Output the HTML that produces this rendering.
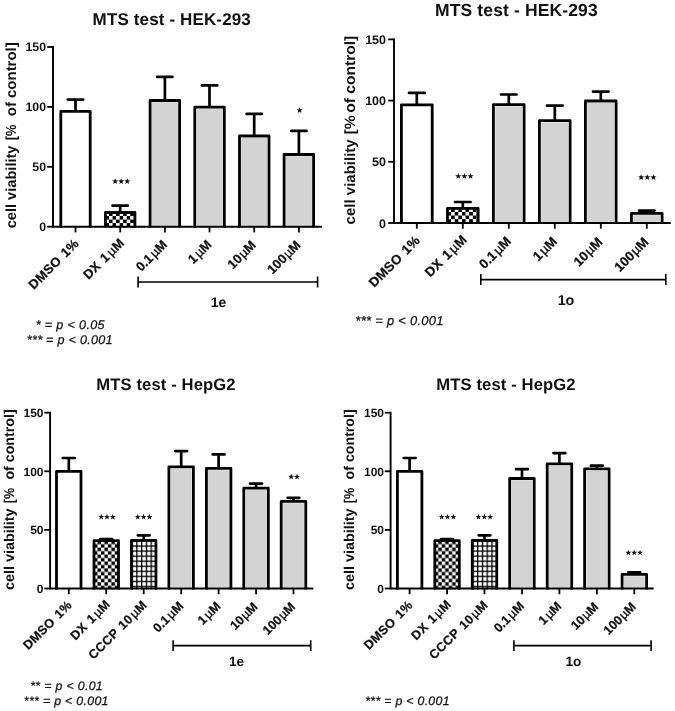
<!DOCTYPE html>
<html><head><meta charset="utf-8"><title>MTS test</title>
<style>
html,body{margin:0;padding:0;background:#fff;}
body{width:675px;height:711px;overflow:hidden;}
svg{display:block;will-change:transform;transform:translateZ(0);}
text{font-family:"Liberation Sans", sans-serif;fill:#111;text-rendering:geometricPrecision;}
</style></head><body>
<svg width="675" height="711" viewBox="0 0 675 711">
<defs>
<pattern id="chk0" width="7.092" height="7.092" patternUnits="userSpaceOnUse"><rect width="7.092" height="7.092" fill="#fff"/><rect x="3.546" y="0" width="3.546" height="3.546" fill="#000"/><rect x="0" y="3.546" width="3.546" height="3.546" fill="#000"/></pattern>
<pattern id="grid0" width="4.876" height="5.151" patternUnits="userSpaceOnUse"><rect width="4.876" height="5.151" fill="#fff"/><rect x="0" y="0" width="1.342" height="5.151" fill="#000"/><rect x="0" y="0" width="4.876" height="1.342" fill="#000"/></pattern>
<pattern id="chk1" width="7.246" height="7.246" patternUnits="userSpaceOnUse"><rect width="7.246" height="7.246" fill="#fff"/><rect x="3.623" y="0" width="3.623" height="3.623" fill="#000"/><rect x="0" y="3.623" width="3.623" height="3.623" fill="#000"/></pattern>
<pattern id="grid1" width="4.982" height="5.263" patternUnits="userSpaceOnUse"><rect width="4.982" height="5.263" fill="#fff"/><rect x="0" y="0" width="1.371" height="5.263" fill="#000"/><rect x="0" y="0" width="4.982" height="1.371" fill="#000"/></pattern>
<pattern id="chk2" width="6.938" height="6.938" patternUnits="userSpaceOnUse"><rect width="6.938" height="6.938" fill="#fff"/><rect x="3.469" y="0" width="3.469" height="3.469" fill="#000"/><rect x="0" y="3.469" width="3.469" height="3.469" fill="#000"/></pattern>
<pattern id="grid2" width="4.770" height="5.040" patternUnits="userSpaceOnUse"><rect width="4.770" height="5.040" fill="#fff"/><rect x="0" y="0" width="1.313" height="5.040" fill="#000"/><rect x="0" y="0" width="4.770" height="1.313" fill="#000"/></pattern>
<pattern id="chk3" width="6.938" height="6.938" patternUnits="userSpaceOnUse"><rect width="6.938" height="6.938" fill="#fff"/><rect x="3.469" y="0" width="3.469" height="3.469" fill="#000"/><rect x="0" y="3.469" width="3.469" height="3.469" fill="#000"/></pattern>
<pattern id="grid3" width="4.770" height="5.040" patternUnits="userSpaceOnUse"><rect width="4.770" height="5.040" fill="#fff"/><rect x="0" y="0" width="1.313" height="5.040" fill="#000"/><rect x="0" y="0" width="4.770" height="1.313" fill="#000"/></pattern>
</defs>
<rect width="675" height="711" fill="#fff"/>

<g id="chart1">
<text x="92.6" y="25.2" font-size="17.0" font-weight="bold" textLength="158.2" lengthAdjust="spacing">MTS test - HEK-293</text>
<text transform="translate(16.1,228.3) rotate(-90)" font-size="14.6" font-weight="bold" textLength="82.8" lengthAdjust="spacingAndGlyphs">cell viability</text>
<text transform="translate(16.1,140.2) rotate(-90)" font-size="14.6" font-weight="bold" textLength="15.7" lengthAdjust="spacingAndGlyphs">[%</text>
<text transform="translate(16.1,116.2) rotate(-90)" font-size="14.6" font-weight="bold" textLength="73.9" lengthAdjust="spacingAndGlyphs">of control]</text>
<path d="M75.5 111.4V99.6M67.8 99.6H83.2" stroke="#000" stroke-width="2.7" fill="none" stroke-linecap="round"/>
<path d="M60.8 227.6V111.4H90.2V227.6" fill="#fff" stroke="#000" stroke-width="2.8" stroke-linejoin="round"/>
<line x1="75.5" y1="226.7" x2="75.5" y2="232.4" stroke="#000" stroke-width="1.8"/>
<text transform="translate(79.6,244.3) rotate(-45)" text-anchor="end" font-size="13.0" font-weight="bold" word-spacing="1.2" letter-spacing="0.3" stroke="#111" stroke-width="0.25">DMSO 1%</text>
<path d="M120.2 212.5V205.7M112.5 205.7H127.8" stroke="#000" stroke-width="2.7" fill="none" stroke-linecap="round"/>
<g transform="translate(105.43,212.50)"><path d="M0 15.1V0H29.5V15.1" fill="url(#chk0)" stroke="#000" stroke-width="2.8" stroke-linejoin="round"/></g>
<line x1="120.2" y1="226.7" x2="120.2" y2="232.4" stroke="#000" stroke-width="1.8"/>
<text transform="translate(125.1,243.5) rotate(-45)" text-anchor="end" font-size="13.0" font-weight="bold" word-spacing="1.2" letter-spacing="0.3" stroke="#111" stroke-width="0.25">DX 1<tspan dx="1.5" font-weight="normal" stroke="#111" stroke-width="0.35">µ</tspan>M</text>
<path d="M164.9 100.5V76.9M157.2 76.9H172.5" stroke="#000" stroke-width="2.7" fill="none" stroke-linecap="round"/>
<path d="M150.1 227.6V100.5H179.6V227.6" fill="#f4f4f4" stroke="#000" stroke-width="2.8" stroke-linejoin="round"/>
<rect x="151.96" y="102.35" width="25.80" height="123.25" fill="#d3d3d3"/>
<line x1="164.9" y1="226.7" x2="164.9" y2="232.4" stroke="#000" stroke-width="1.8"/>
<text transform="translate(168.0,245.3) rotate(-45)" text-anchor="end" font-size="13.0" font-weight="bold" word-spacing="1.2" letter-spacing="0.0" stroke="#111" stroke-width="0.25">0.1<tspan dx="1.5" font-weight="normal" stroke="#111" stroke-width="0.35">µ</tspan>M</text>
<path d="M209.5 107.1V85.4M201.9 85.4H217.2" stroke="#000" stroke-width="2.7" fill="none" stroke-linecap="round"/>
<path d="M194.8 227.6V107.1H224.3V227.6" fill="#f4f4f4" stroke="#000" stroke-width="2.8" stroke-linejoin="round"/>
<rect x="196.64" y="108.95" width="25.80" height="116.65" fill="#d3d3d3"/>
<line x1="209.5" y1="226.7" x2="209.5" y2="232.4" stroke="#000" stroke-width="1.8"/>
<text transform="translate(212.5,245.4) rotate(-45)" text-anchor="end" font-size="13.0" font-weight="bold" word-spacing="1.2" letter-spacing="0.0" stroke="#111" stroke-width="0.25">1<tspan dx="1.5" font-weight="normal" stroke="#111" stroke-width="0.35">µ</tspan>M</text>
<path d="M254.2 136.0V113.9M246.6 113.9H261.9" stroke="#000" stroke-width="2.7" fill="none" stroke-linecap="round"/>
<path d="M239.5 227.6V136.0H269.0V227.6" fill="#f4f4f4" stroke="#000" stroke-width="2.8" stroke-linejoin="round"/>
<rect x="241.32" y="137.85" width="25.80" height="87.75" fill="#d3d3d3"/>
<line x1="254.2" y1="226.7" x2="254.2" y2="232.4" stroke="#000" stroke-width="1.8"/>
<text transform="translate(256.7,245.9) rotate(-45)" text-anchor="end" font-size="13.0" font-weight="bold" word-spacing="1.2" letter-spacing="0.0" stroke="#111" stroke-width="0.25">10<tspan dx="0.9" font-weight="normal" stroke="#111" stroke-width="0.35">µ</tspan>M</text>
<path d="M298.9 154.5V130.9M291.2 130.9H306.5" stroke="#000" stroke-width="2.7" fill="none" stroke-linecap="round"/>
<path d="M284.1 227.6V154.5H313.6V227.6" fill="#f4f4f4" stroke="#000" stroke-width="2.8" stroke-linejoin="round"/>
<rect x="286.00" y="156.35" width="25.80" height="69.25" fill="#d3d3d3"/>
<line x1="298.9" y1="226.7" x2="298.9" y2="232.4" stroke="#000" stroke-width="1.8"/>
<text transform="translate(301.4,245.9) rotate(-45)" text-anchor="end" font-size="13.0" font-weight="bold" word-spacing="1.2" letter-spacing="0.0" stroke="#111" stroke-width="0.25">100<tspan dx="0.9" font-weight="normal" stroke="#111" stroke-width="0.35">µ</tspan>M</text>
<path d="M53.0 46.1V226.7M52.1 226.7H321.9" stroke="#000" stroke-width="1.9" fill="none"/>
<line x1="47.2" y1="47.0" x2="53.0" y2="47.0" stroke="#000" stroke-width="1.8"/>
<text x="46.0" y="51.4" text-anchor="end" font-size="12.3" font-weight="bold">150</text>
<line x1="47.2" y1="106.9" x2="53.0" y2="106.9" stroke="#000" stroke-width="1.8"/>
<text x="46.0" y="111.3" text-anchor="end" font-size="12.3" font-weight="bold">100</text>
<line x1="47.2" y1="166.8" x2="53.0" y2="166.8" stroke="#000" stroke-width="1.8"/>
<text x="46.0" y="171.2" text-anchor="end" font-size="12.3" font-weight="bold">50</text>
<line x1="47.2" y1="226.7" x2="53.0" y2="226.7" stroke="#000" stroke-width="1.8"/>
<text x="46.0" y="231.1" text-anchor="end" font-size="12.3" font-weight="bold">0</text>
<path d="M138.1 276.5V287.5M317.6 276.5V287.5M138.1 282.0H317.6" stroke="#000" stroke-width="1.6" fill="none"/>
<text x="218.5" y="307.0" text-anchor="middle" font-size="14.0" font-weight="bold">1e</text>
<polygon points="115.17,178.27 114.39,180.37 112.15,180.47 113.90,181.86 113.30,184.02 115.17,182.78 117.04,184.02 116.44,181.86 118.19,180.47 115.95,180.37" fill="#111"/>
<polygon points="121.20,178.27 120.42,180.37 118.18,180.47 119.93,181.86 119.33,184.02 121.20,182.78 123.07,184.02 122.47,181.86 124.22,180.47 121.98,180.37" fill="#111"/>
<polygon points="127.23,178.27 126.45,180.37 124.21,180.47 125.96,181.86 125.36,184.02 127.23,182.78 129.10,184.02 128.50,181.86 130.25,180.47 128.01,180.37" fill="#111"/>
<polygon points="299.60,107.27 298.82,109.37 296.58,109.47 298.33,110.86 297.73,113.02 299.60,111.78 301.47,113.02 300.87,110.86 302.62,109.47 300.38,109.37" fill="#111"/>
<text x="35.7" y="329.0" font-size="12.6" font-style="italic" stroke="#111" stroke-width="0.25" textLength="68.9" lengthAdjust="spacing">* = p &lt; 0.05</text>
<text x="26.8" y="343.8" font-size="12.6" font-style="italic" stroke="#111" stroke-width="0.25" textLength="85.8" lengthAdjust="spacing">*** = p &lt; 0.001</text>
</g>
<g id="chart2">
<text x="435.0" y="16.3" font-size="17.5" font-weight="bold" textLength="162.7" lengthAdjust="spacing">MTS test - HEK-293</text>
<text transform="translate(354.9,224.4) rotate(-90)" font-size="14.9" font-weight="bold" textLength="85.1" lengthAdjust="spacingAndGlyphs">cell viability</text>
<text transform="translate(354.9,134.4) rotate(-90)" font-size="14.9" font-weight="bold" textLength="19.2" lengthAdjust="spacingAndGlyphs">[%</text>
<text transform="translate(354.9,112.7) rotate(-90)" font-size="14.9" font-weight="bold" textLength="76.9" lengthAdjust="spacingAndGlyphs">of control]</text>
<path d="M416.8 104.8V92.9M409.0 92.9H424.6" stroke="#000" stroke-width="2.7" fill="none" stroke-linecap="round"/>
<path d="M401.4 223.9V104.8H432.2V223.9" fill="#fff" stroke="#000" stroke-width="2.8" stroke-linejoin="round"/>
<line x1="416.8" y1="223.0" x2="416.8" y2="228.7" stroke="#000" stroke-width="1.8"/>
<text transform="translate(420.9,241.2) rotate(-45)" text-anchor="end" font-size="13.3" font-weight="bold" word-spacing="1.2" letter-spacing="0.3" stroke="#111" stroke-width="0.25">DMSO 1%</text>
<path d="M462.8 208.3V202.0M455.0 202.0H470.6" stroke="#000" stroke-width="2.7" fill="none" stroke-linecap="round"/>
<g transform="translate(447.45,208.30)"><path d="M0 15.6V0H30.7V15.6" fill="url(#chk1)" stroke="#000" stroke-width="2.8" stroke-linejoin="round"/></g>
<line x1="462.8" y1="223.0" x2="462.8" y2="228.7" stroke="#000" stroke-width="1.8"/>
<text transform="translate(467.7,240.4) rotate(-45)" text-anchor="end" font-size="13.3" font-weight="bold" word-spacing="1.2" letter-spacing="0.3" stroke="#111" stroke-width="0.25">DX 1<tspan dx="1.5" font-weight="normal" stroke="#111" stroke-width="0.35">µ</tspan>M</text>
<path d="M508.8 104.6V94.5M501.0 94.5H516.6" stroke="#000" stroke-width="2.7" fill="none" stroke-linecap="round"/>
<path d="M493.4 223.9V104.6H524.1V223.9" fill="#f4f4f4" stroke="#000" stroke-width="2.8" stroke-linejoin="round"/>
<rect x="495.30" y="106.45" width="27.00" height="115.45" fill="#d3d3d3"/>
<line x1="508.8" y1="223.0" x2="508.8" y2="228.7" stroke="#000" stroke-width="1.8"/>
<text transform="translate(511.9,242.2) rotate(-45)" text-anchor="end" font-size="13.3" font-weight="bold" word-spacing="1.2" letter-spacing="0.0" stroke="#111" stroke-width="0.25">0.1<tspan dx="1.5" font-weight="normal" stroke="#111" stroke-width="0.35">µ</tspan>M</text>
<path d="M554.8 120.7V105.6M547.0 105.6H562.6" stroke="#000" stroke-width="2.7" fill="none" stroke-linecap="round"/>
<path d="M539.4 223.9V120.7H570.1V223.9" fill="#f4f4f4" stroke="#000" stroke-width="2.8" stroke-linejoin="round"/>
<rect x="541.30" y="122.55" width="27.00" height="99.35" fill="#d3d3d3"/>
<line x1="554.8" y1="223.0" x2="554.8" y2="228.7" stroke="#000" stroke-width="1.8"/>
<text transform="translate(557.8,242.3) rotate(-45)" text-anchor="end" font-size="13.3" font-weight="bold" word-spacing="1.2" letter-spacing="0.0" stroke="#111" stroke-width="0.25">1<tspan dx="1.5" font-weight="normal" stroke="#111" stroke-width="0.35">µ</tspan>M</text>
<path d="M600.8 101.0V91.6M593.0 91.6H608.6" stroke="#000" stroke-width="2.7" fill="none" stroke-linecap="round"/>
<path d="M585.4 223.9V101.0H616.1V223.9" fill="#f4f4f4" stroke="#000" stroke-width="2.8" stroke-linejoin="round"/>
<rect x="587.30" y="102.85" width="27.00" height="119.05" fill="#d3d3d3"/>
<line x1="600.8" y1="223.0" x2="600.8" y2="228.7" stroke="#000" stroke-width="1.8"/>
<text transform="translate(603.3,242.8) rotate(-45)" text-anchor="end" font-size="13.3" font-weight="bold" word-spacing="1.2" letter-spacing="0.0" stroke="#111" stroke-width="0.25">10<tspan dx="0.9" font-weight="normal" stroke="#111" stroke-width="0.35">µ</tspan>M</text>
<path d="M646.8 213.3V210.6M639.0 210.6H654.6" stroke="#000" stroke-width="2.7" fill="none" stroke-linecap="round"/>
<path d="M631.4 223.9V213.3H662.1V223.9" fill="#f4f4f4" stroke="#000" stroke-width="2.8" stroke-linejoin="round"/>
<rect x="633.30" y="215.15" width="27.00" height="6.75" fill="#d3d3d3"/>
<line x1="646.8" y1="223.0" x2="646.8" y2="228.7" stroke="#000" stroke-width="1.8"/>
<text transform="translate(649.3,242.8) rotate(-45)" text-anchor="end" font-size="13.3" font-weight="bold" word-spacing="1.2" letter-spacing="0.0" stroke="#111" stroke-width="0.25">100<tspan dx="0.9" font-weight="normal" stroke="#111" stroke-width="0.35">µ</tspan>M</text>
<path d="M394.0 38.5V223.0M393.1 223.0H670.8" stroke="#000" stroke-width="1.9" fill="none"/>
<line x1="388.2" y1="39.4" x2="394.0" y2="39.4" stroke="#000" stroke-width="1.8"/>
<text x="386.0" y="43.9" text-anchor="end" font-size="12.5" font-weight="bold">150</text>
<line x1="388.2" y1="100.6" x2="394.0" y2="100.6" stroke="#000" stroke-width="1.8"/>
<text x="386.0" y="105.1" text-anchor="end" font-size="12.5" font-weight="bold">100</text>
<line x1="388.2" y1="161.8" x2="394.0" y2="161.8" stroke="#000" stroke-width="1.8"/>
<text x="386.0" y="166.3" text-anchor="end" font-size="12.5" font-weight="bold">50</text>
<line x1="388.2" y1="223.0" x2="394.0" y2="223.0" stroke="#000" stroke-width="1.8"/>
<text x="386.0" y="227.5" text-anchor="end" font-size="12.5" font-weight="bold">0</text>
<path d="M480.8 274.1V285.1M665.8 274.1V285.1M480.8 279.6H665.8" stroke="#000" stroke-width="1.6" fill="none"/>
<text x="566.0" y="305.3" text-anchor="middle" font-size="14.3" font-weight="bold">1o</text>
<polygon points="458.25,173.01 457.45,175.15 455.17,175.25 456.96,176.67 456.35,178.87 458.25,177.61 460.16,178.87 459.55,176.67 461.33,175.25 459.05,175.15" fill="#111"/>
<polygon points="464.40,173.01 463.60,175.15 461.32,175.25 463.11,176.67 462.50,178.87 464.40,177.61 466.30,178.87 465.69,176.67 467.48,175.25 465.20,175.15" fill="#111"/>
<polygon points="470.55,173.01 469.75,175.15 467.47,175.25 469.25,176.67 468.64,178.87 470.55,177.61 472.45,178.87 471.84,176.67 473.63,175.25 471.35,175.15" fill="#111"/>
<polygon points="641.15,174.21 640.35,176.35 638.07,176.45 639.86,177.87 639.25,180.07 641.15,178.81 643.06,180.07 642.45,177.87 644.23,176.45 641.95,176.35" fill="#111"/>
<polygon points="647.30,174.21 646.50,176.35 644.22,176.45 646.01,177.87 645.40,180.07 647.30,178.81 649.20,180.07 648.59,177.87 650.38,176.45 648.10,176.35" fill="#111"/>
<polygon points="653.45,174.21 652.65,176.35 650.37,176.45 652.15,177.87 651.54,180.07 653.45,178.81 655.35,180.07 654.74,177.87 656.53,176.45 654.25,176.35" fill="#111"/>
<text x="355.3" y="325.3" font-size="12.9" font-style="italic" stroke="#111" stroke-width="0.25" textLength="88.1" lengthAdjust="spacing">*** = p &lt; 0.001</text>
</g>
<g id="chart3">
<text x="96.2" y="390.0" font-size="16.6" font-weight="bold" textLength="139.4" lengthAdjust="spacing">MTS test - HepG2</text>
<text transform="translate(13.6,590.1) rotate(-90)" font-size="14.2" font-weight="bold" textLength="81.6" lengthAdjust="spacingAndGlyphs">cell viability</text>
<text transform="translate(13.6,503.2) rotate(-90)" font-size="14.2" font-weight="bold" textLength="15.4" lengthAdjust="spacingAndGlyphs">[%</text>
<text transform="translate(13.6,479.6) rotate(-90)" font-size="14.2" font-weight="bold" textLength="70.3" lengthAdjust="spacingAndGlyphs">of control]</text>
<path d="M68.8 471.4V458.0M62.8 458.0H74.8" stroke="#000" stroke-width="2.7" fill="none" stroke-linecap="round"/>
<path d="M56.5 589.4V471.4H81.0V589.4" fill="#fff" stroke="#000" stroke-width="2.8" stroke-linejoin="round"/>
<line x1="68.8" y1="588.5" x2="68.8" y2="594.2" stroke="#000" stroke-width="1.8"/>
<text transform="translate(72.7,605.9) rotate(-45)" text-anchor="end" font-size="12.6" font-weight="bold" word-spacing="1.2" letter-spacing="0.3" stroke="#111" stroke-width="0.25">DMSO 1%</text>
<path d="M106.2 540.7V539.0M100.3 539.0H112.2" stroke="#000" stroke-width="2.7" fill="none" stroke-linecap="round"/>
<g transform="translate(94.00,540.70)"><path d="M0 48.7V0H24.5V48.7" fill="url(#chk2)" stroke="#000" stroke-width="2.8" stroke-linejoin="round"/></g>
<line x1="106.2" y1="588.5" x2="106.2" y2="594.2" stroke="#000" stroke-width="1.8"/>
<text transform="translate(111.0,605.1) rotate(-45)" text-anchor="end" font-size="12.6" font-weight="bold" word-spacing="1.2" letter-spacing="0.3" stroke="#111" stroke-width="0.25">DX 1<tspan dx="1.5" font-weight="normal" stroke="#111" stroke-width="0.35">µ</tspan>M</text>
<path d="M143.7 540.4V535.3M137.8 535.3H149.6" stroke="#000" stroke-width="2.7" fill="none" stroke-linecap="round"/>
<g transform="translate(131.45,540.40)"><path d="M0 49.0V0H24.5V49.0" fill="url(#grid2)" stroke="#000" stroke-width="2.8" stroke-linejoin="round"/></g>
<line x1="143.7" y1="588.5" x2="143.7" y2="594.2" stroke="#000" stroke-width="1.8"/>
<text transform="translate(147.8,605.7) rotate(-45)" text-anchor="end" font-size="12.6" font-weight="bold" word-spacing="1.2" letter-spacing="0.4" stroke="#111" stroke-width="0.25">CCCP 10<tspan dx="1.2" font-weight="normal" stroke="#111" stroke-width="0.35">µ</tspan>M</text>
<path d="M181.2 466.8V451.1M175.2 451.1H187.1" stroke="#000" stroke-width="2.7" fill="none" stroke-linecap="round"/>
<path d="M168.9 589.4V466.8H193.4V589.4" fill="#f4f4f4" stroke="#000" stroke-width="2.8" stroke-linejoin="round"/>
<rect x="170.75" y="468.65" width="20.80" height="118.75" fill="#d3d3d3"/>
<line x1="181.2" y1="588.5" x2="181.2" y2="594.2" stroke="#000" stroke-width="1.8"/>
<text transform="translate(184.1,606.9) rotate(-45)" text-anchor="end" font-size="12.6" font-weight="bold" word-spacing="1.2" letter-spacing="0.0" stroke="#111" stroke-width="0.25">0.1<tspan dx="1.5" font-weight="normal" stroke="#111" stroke-width="0.35">µ</tspan>M</text>
<path d="M218.6 468.4V454.4M212.7 454.4H224.6" stroke="#000" stroke-width="2.7" fill="none" stroke-linecap="round"/>
<path d="M206.4 589.4V468.4H230.9V589.4" fill="#f4f4f4" stroke="#000" stroke-width="2.8" stroke-linejoin="round"/>
<rect x="208.20" y="470.25" width="20.80" height="117.15" fill="#d3d3d3"/>
<line x1="218.6" y1="588.5" x2="218.6" y2="594.2" stroke="#000" stroke-width="1.8"/>
<text transform="translate(221.4,607.0) rotate(-45)" text-anchor="end" font-size="12.6" font-weight="bold" word-spacing="1.2" letter-spacing="0.0" stroke="#111" stroke-width="0.25">1<tspan dx="1.5" font-weight="normal" stroke="#111" stroke-width="0.35">µ</tspan>M</text>
<path d="M256.1 488.2V483.6M250.1 483.6H262.0" stroke="#000" stroke-width="2.7" fill="none" stroke-linecap="round"/>
<path d="M243.8 589.4V488.2H268.3V589.4" fill="#f4f4f4" stroke="#000" stroke-width="2.8" stroke-linejoin="round"/>
<rect x="245.65" y="490.05" width="20.80" height="97.35" fill="#d3d3d3"/>
<line x1="256.1" y1="588.5" x2="256.1" y2="594.2" stroke="#000" stroke-width="1.8"/>
<text transform="translate(258.4,607.5) rotate(-45)" text-anchor="end" font-size="12.6" font-weight="bold" word-spacing="1.2" letter-spacing="0.0" stroke="#111" stroke-width="0.25">10<tspan dx="0.9" font-weight="normal" stroke="#111" stroke-width="0.35">µ</tspan>M</text>
<path d="M293.5 501.4V497.8M287.6 497.8H299.4" stroke="#000" stroke-width="2.7" fill="none" stroke-linecap="round"/>
<path d="M281.2 589.4V501.4H305.8V589.4" fill="#f4f4f4" stroke="#000" stroke-width="2.8" stroke-linejoin="round"/>
<rect x="283.10" y="503.25" width="20.80" height="84.15" fill="#d3d3d3"/>
<line x1="293.5" y1="588.5" x2="293.5" y2="594.2" stroke="#000" stroke-width="1.8"/>
<text transform="translate(295.8,607.5) rotate(-45)" text-anchor="end" font-size="12.6" font-weight="bold" word-spacing="1.2" letter-spacing="0.0" stroke="#111" stroke-width="0.25">100<tspan dx="0.9" font-weight="normal" stroke="#111" stroke-width="0.35">µ</tspan>M</text>
<path d="M50.1 411.8V588.5M49.2 588.5H313.3" stroke="#000" stroke-width="1.9" fill="none"/>
<line x1="44.3" y1="412.7" x2="50.1" y2="412.7" stroke="#000" stroke-width="1.8"/>
<text x="43.5" y="417.0" text-anchor="end" font-size="12.0" font-weight="bold">150</text>
<line x1="44.3" y1="471.3" x2="50.1" y2="471.3" stroke="#000" stroke-width="1.8"/>
<text x="43.5" y="475.6" text-anchor="end" font-size="12.0" font-weight="bold">100</text>
<line x1="44.3" y1="529.9" x2="50.1" y2="529.9" stroke="#000" stroke-width="1.8"/>
<text x="43.5" y="534.2" text-anchor="end" font-size="12.0" font-weight="bold">50</text>
<line x1="44.3" y1="588.5" x2="50.1" y2="588.5" stroke="#000" stroke-width="1.8"/>
<text x="43.5" y="592.8" text-anchor="end" font-size="12.0" font-weight="bold">0</text>
<path d="M173.1 640.2V651.0M310.7 640.2V651.0M173.1 645.6H310.7" stroke="#000" stroke-width="1.6" fill="none"/>
<text x="236.6" y="666.4" text-anchor="middle" font-size="13.6" font-weight="bold">1e</text>
<polygon points="101.17,513.87 100.41,515.91 98.24,516.00 99.94,517.35 99.36,519.44 101.17,518.24 102.97,519.44 102.39,517.35 104.09,516.00 101.92,515.91" fill="#111"/>
<polygon points="107.00,513.87 106.24,515.91 104.08,516.00 105.77,517.35 105.19,519.44 107.00,518.24 108.81,519.44 108.23,517.35 109.92,516.00 107.76,515.91" fill="#111"/>
<polygon points="112.83,513.87 112.08,515.91 109.91,516.00 111.61,517.35 111.03,519.44 112.83,518.24 114.64,519.44 114.06,517.35 115.76,516.00 113.59,515.91" fill="#111"/>
<polygon points="137.76,513.87 137.01,515.91 134.84,516.00 136.54,517.35 135.96,519.44 137.76,518.24 139.57,519.44 138.99,517.35 140.69,516.00 138.52,515.91" fill="#111"/>
<polygon points="143.60,513.87 142.84,515.91 140.68,516.00 142.37,517.35 141.79,519.44 143.60,518.24 145.41,519.44 144.83,517.35 146.52,516.00 144.36,515.91" fill="#111"/>
<polygon points="149.44,513.87 148.68,515.91 146.51,516.00 148.21,517.35 147.63,519.44 149.44,518.24 151.24,519.44 150.66,517.35 152.36,516.00 150.19,515.91" fill="#111"/>
<polygon points="291.18,473.78 290.42,475.81 288.26,475.90 289.95,477.25 289.38,479.34 291.18,478.14 292.99,479.34 292.41,477.25 294.11,475.90 291.94,475.81" fill="#111"/>
<polygon points="297.02,473.78 296.26,475.81 294.09,475.90 295.79,477.25 295.21,479.34 297.02,478.14 298.82,479.34 298.25,477.25 299.94,475.90 297.78,475.81" fill="#111"/>
<text x="30.2" y="690.0" font-size="12.3" font-style="italic" stroke="#111" stroke-width="0.25" textLength="72.5" lengthAdjust="spacing">** = p &lt; 0.01</text>
<text x="23.8" y="705.2" font-size="12.3" font-style="italic" stroke="#111" stroke-width="0.25" textLength="84.6" lengthAdjust="spacing">*** = p &lt; 0.001</text>
</g>
<g id="chart4">
<text x="436.2" y="390.0" font-size="16.6" font-weight="bold" textLength="139.4" lengthAdjust="spacing">MTS test - HepG2</text>
<text transform="translate(354.0,590.1) rotate(-90)" font-size="14.2" font-weight="bold" textLength="81.6" lengthAdjust="spacingAndGlyphs">cell viability</text>
<text transform="translate(354.0,503.2) rotate(-90)" font-size="14.2" font-weight="bold" textLength="15.5" lengthAdjust="spacingAndGlyphs">[%</text>
<text transform="translate(354.0,479.4) rotate(-90)" font-size="14.2" font-weight="bold" textLength="70.1" lengthAdjust="spacingAndGlyphs">of control]</text>
<path d="M409.6 471.4V458.0M403.7 458.0H415.6" stroke="#000" stroke-width="2.7" fill="none" stroke-linecap="round"/>
<path d="M397.4 589.4V471.4H421.9V589.4" fill="#fff" stroke="#000" stroke-width="2.8" stroke-linejoin="round"/>
<line x1="409.6" y1="588.5" x2="409.6" y2="594.2" stroke="#000" stroke-width="1.8"/>
<text transform="translate(413.5,605.9) rotate(-45)" text-anchor="end" font-size="12.6" font-weight="bold" word-spacing="1.2" letter-spacing="0.3" stroke="#111" stroke-width="0.25">DMSO 1%</text>
<path d="M447.1 540.7V539.0M441.1 539.0H453.0" stroke="#000" stroke-width="2.7" fill="none" stroke-linecap="round"/>
<g transform="translate(434.80,540.70)"><path d="M0 48.7V0H24.5V48.7" fill="url(#chk3)" stroke="#000" stroke-width="2.8" stroke-linejoin="round"/></g>
<line x1="447.1" y1="588.5" x2="447.1" y2="594.2" stroke="#000" stroke-width="1.8"/>
<text transform="translate(451.8,605.1) rotate(-45)" text-anchor="end" font-size="12.6" font-weight="bold" word-spacing="1.2" letter-spacing="0.3" stroke="#111" stroke-width="0.25">DX 1<tspan dx="1.5" font-weight="normal" stroke="#111" stroke-width="0.35">µ</tspan>M</text>
<path d="M484.5 540.4V535.3M478.6 535.3H490.4" stroke="#000" stroke-width="2.7" fill="none" stroke-linecap="round"/>
<g transform="translate(472.25,540.40)"><path d="M0 49.0V0H24.5V49.0" fill="url(#grid3)" stroke="#000" stroke-width="2.8" stroke-linejoin="round"/></g>
<line x1="484.5" y1="588.5" x2="484.5" y2="594.2" stroke="#000" stroke-width="1.8"/>
<text transform="translate(488.6,605.7) rotate(-45)" text-anchor="end" font-size="12.6" font-weight="bold" word-spacing="1.2" letter-spacing="0.4" stroke="#111" stroke-width="0.25">CCCP 10<tspan dx="1.2" font-weight="normal" stroke="#111" stroke-width="0.35">µ</tspan>M</text>
<path d="M522.0 478.5V469.2M516.0 469.2H527.9" stroke="#000" stroke-width="2.7" fill="none" stroke-linecap="round"/>
<path d="M509.7 589.4V478.5H534.2V589.4" fill="#f4f4f4" stroke="#000" stroke-width="2.8" stroke-linejoin="round"/>
<rect x="511.55" y="480.35" width="20.80" height="107.05" fill="#d3d3d3"/>
<line x1="522.0" y1="588.5" x2="522.0" y2="594.2" stroke="#000" stroke-width="1.8"/>
<text transform="translate(524.9,606.9) rotate(-45)" text-anchor="end" font-size="12.6" font-weight="bold" word-spacing="1.2" letter-spacing="0.0" stroke="#111" stroke-width="0.25">0.1<tspan dx="1.5" font-weight="normal" stroke="#111" stroke-width="0.35">µ</tspan>M</text>
<path d="M559.4 463.8V453.1M553.5 453.1H565.4" stroke="#000" stroke-width="2.7" fill="none" stroke-linecap="round"/>
<path d="M547.2 589.4V463.8H571.7V589.4" fill="#f4f4f4" stroke="#000" stroke-width="2.8" stroke-linejoin="round"/>
<rect x="549.00" y="465.65" width="20.80" height="121.75" fill="#d3d3d3"/>
<line x1="559.4" y1="588.5" x2="559.4" y2="594.2" stroke="#000" stroke-width="1.8"/>
<text transform="translate(562.2,607.0) rotate(-45)" text-anchor="end" font-size="12.6" font-weight="bold" word-spacing="1.2" letter-spacing="0.0" stroke="#111" stroke-width="0.25">1<tspan dx="1.5" font-weight="normal" stroke="#111" stroke-width="0.35">µ</tspan>M</text>
<path d="M596.9 468.8V465.7M590.9 465.7H602.8" stroke="#000" stroke-width="2.7" fill="none" stroke-linecap="round"/>
<path d="M584.6 589.4V468.8H609.1V589.4" fill="#f4f4f4" stroke="#000" stroke-width="2.8" stroke-linejoin="round"/>
<rect x="586.45" y="470.65" width="20.80" height="116.75" fill="#d3d3d3"/>
<line x1="596.9" y1="588.5" x2="596.9" y2="594.2" stroke="#000" stroke-width="1.8"/>
<text transform="translate(599.1,607.5) rotate(-45)" text-anchor="end" font-size="12.6" font-weight="bold" word-spacing="1.2" letter-spacing="0.0" stroke="#111" stroke-width="0.25">10<tspan dx="0.9" font-weight="normal" stroke="#111" stroke-width="0.35">µ</tspan>M</text>
<path d="M634.3 574.4V572.3M628.4 572.3H640.3" stroke="#000" stroke-width="2.7" fill="none" stroke-linecap="round"/>
<path d="M622.1 589.4V574.4H646.6V589.4" fill="#f4f4f4" stroke="#000" stroke-width="2.8" stroke-linejoin="round"/>
<rect x="623.90" y="576.25" width="20.80" height="11.15" fill="#d3d3d3"/>
<line x1="634.3" y1="588.5" x2="634.3" y2="594.2" stroke="#000" stroke-width="1.8"/>
<text transform="translate(636.6,607.5) rotate(-45)" text-anchor="end" font-size="12.6" font-weight="bold" word-spacing="1.2" letter-spacing="0.0" stroke="#111" stroke-width="0.25">100<tspan dx="0.9" font-weight="normal" stroke="#111" stroke-width="0.35">µ</tspan>M</text>
<path d="M390.6 411.8V588.5M389.7 588.5H653.7" stroke="#000" stroke-width="1.9" fill="none"/>
<line x1="384.8" y1="412.7" x2="390.6" y2="412.7" stroke="#000" stroke-width="1.8"/>
<text x="384.0" y="417.0" text-anchor="end" font-size="12.0" font-weight="bold">150</text>
<line x1="384.8" y1="471.3" x2="390.6" y2="471.3" stroke="#000" stroke-width="1.8"/>
<text x="384.0" y="475.6" text-anchor="end" font-size="12.0" font-weight="bold">100</text>
<line x1="384.8" y1="529.9" x2="390.6" y2="529.9" stroke="#000" stroke-width="1.8"/>
<text x="384.0" y="534.2" text-anchor="end" font-size="12.0" font-weight="bold">50</text>
<line x1="384.8" y1="588.5" x2="390.6" y2="588.5" stroke="#000" stroke-width="1.8"/>
<text x="384.0" y="592.8" text-anchor="end" font-size="12.0" font-weight="bold">0</text>
<path d="M513.9 640.2V651.0M651.1 640.2V651.0M513.9 645.6H651.1" stroke="#000" stroke-width="1.6" fill="none"/>
<text x="573.5" y="666.4" text-anchor="middle" font-size="13.6" font-weight="bold">1o</text>
<polygon points="441.67,513.87 440.91,515.91 438.74,516.00 440.44,517.35 439.86,519.44 441.67,518.24 443.47,519.44 442.89,517.35 444.59,516.00 442.42,515.91" fill="#111"/>
<polygon points="447.50,513.87 446.74,515.91 444.58,516.00 446.27,517.35 445.69,519.44 447.50,518.24 449.31,519.44 448.73,517.35 450.42,516.00 448.26,515.91" fill="#111"/>
<polygon points="453.33,513.87 452.58,515.91 450.41,516.00 452.11,517.35 451.53,519.44 453.33,518.24 455.14,519.44 454.56,517.35 456.26,516.00 454.09,515.91" fill="#111"/>
<polygon points="478.47,513.87 477.71,515.91 475.54,516.00 477.24,517.35 476.66,519.44 478.47,518.24 480.27,519.44 479.69,517.35 481.39,516.00 479.22,515.91" fill="#111"/>
<polygon points="484.30,513.87 483.54,515.91 481.38,516.00 483.07,517.35 482.49,519.44 484.30,518.24 486.11,519.44 485.53,517.35 487.22,516.00 485.06,515.91" fill="#111"/>
<polygon points="490.13,513.87 489.38,515.91 487.21,516.00 488.91,517.35 488.33,519.44 490.13,518.24 491.94,519.44 491.36,517.35 493.06,516.00 490.89,515.91" fill="#111"/>
<polygon points="628.37,549.67 627.61,551.71 625.44,551.80 627.14,553.15 626.56,555.24 628.37,554.04 630.17,555.24 629.59,553.15 631.29,551.80 629.12,551.71" fill="#111"/>
<polygon points="634.20,549.67 633.44,551.71 631.28,551.80 632.97,553.15 632.39,555.24 634.20,554.04 636.01,555.24 635.43,553.15 637.12,551.80 634.96,551.71" fill="#111"/>
<polygon points="640.04,549.67 639.28,551.71 637.11,551.80 638.81,553.15 638.23,555.24 640.04,554.04 641.84,555.24 641.26,553.15 642.96,551.80 640.79,551.71" fill="#111"/>
<text x="365.2" y="705.2" font-size="12.3" font-style="italic" stroke="#111" stroke-width="0.25" textLength="84.3" lengthAdjust="spacing">*** = p &lt; 0.001</text>
</g>
</svg></body></html>
